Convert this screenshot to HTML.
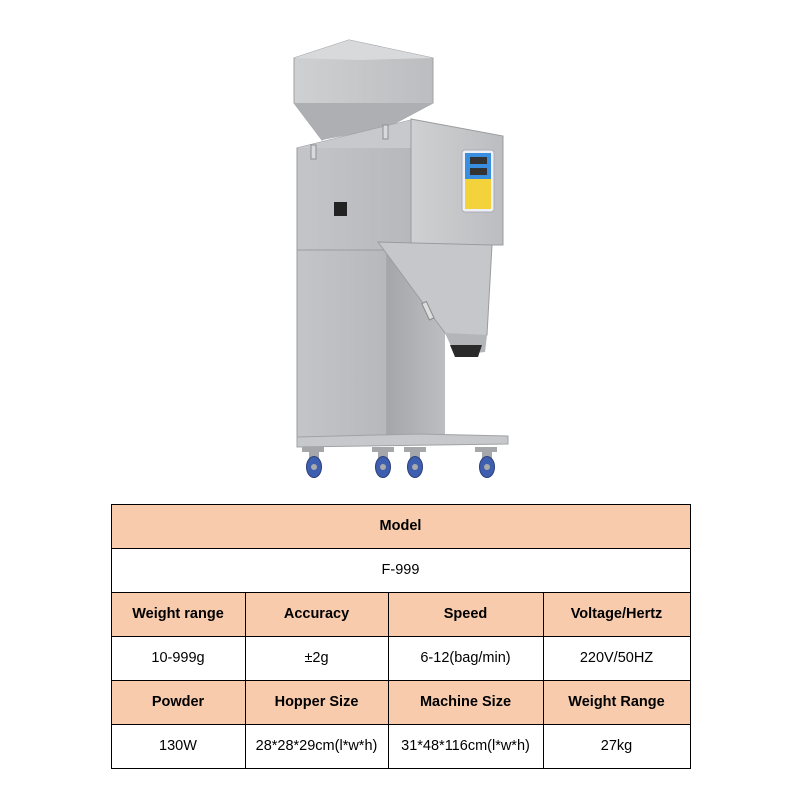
<!DOCTYPE html>
<html><head><meta charset="utf-8"><style>
html,body{margin:0;padding:0;background:#fff;}
#wrap{position:relative;width:800px;height:800px;overflow:hidden;background:#fff;font-family:"Liberation Sans",Arial,sans-serif;}
.c{position:absolute;box-sizing:border-box;display:flex;align-items:center;justify-content:center;font-size:14.5px;color:#000;}
.h{background:#f8cbad;font-weight:bold;}
.l{position:absolute;background:#000;}
</style></head><body><div id="wrap">
<svg width="800" height="500" style="position:absolute;left:0;top:0">
<defs>
<linearGradient id="g1" x1="0" x2="1"><stop offset="0" stop-color="#c4c5c8"/><stop offset="1" stop-color="#b6b8bb"/></linearGradient>
<linearGradient id="g2" x1="0" x2="1"><stop offset="0" stop-color="#cfd0d2"/><stop offset="1" stop-color="#bcbdc0"/></linearGradient>
<linearGradient id="g3" x1="0" x2="1"><stop offset="0" stop-color="#a4a6a9"/><stop offset="1" stop-color="#bdbec1"/></linearGradient>
</defs>
<polygon points="294,58 349,40 433,58 433,103 386,128 350,128 322,140 294,103" fill="url(#g2)" stroke="#9fa1a4" stroke-width="1"/>
<polygon points="294,58 349,40 433,58 360,60" fill="#d8d9db"/>
<polygon points="294,103 433,103 386,128 322,140" fill="#adafb2"/>
<polygon points="297,148 411,120 411,252 297,252" fill="url(#g1)" stroke="#9a9c9f"/>
<polygon points="297,148 411,120 411,148 297,148" fill="#c8c9cc"/>
<polygon points="411,119 503,136 503,245 411,245" fill="url(#g2)" stroke="#9a9c9f"/>
<rect x="311" y="145" width="5" height="14" fill="#d8d9db" stroke="#8d8f92"/>
<rect x="383" y="125" width="5" height="14" fill="#d8d9db" stroke="#8d8f92"/>
<rect x="334" y="202" width="13" height="14" fill="#222"/>
<rect x="462" y="150" width="32" height="62" rx="3" fill="#eef0f4" stroke="#aab"/>
<rect x="465" y="153" width="26" height="26" fill="#3a8ee0"/>
<rect x="470" y="157" width="17" height="7" fill="#333"/>
<rect x="470" y="168" width="17" height="7" fill="#333"/>
<rect x="465" y="179" width="26" height="30" fill="#f3d23c"/>
<rect x="297" y="250" width="90" height="190" fill="url(#g1)" stroke="#9a9c9f"/>
<rect x="387" y="250" width="58" height="190" fill="url(#g3)"/>
<polygon points="378,242 492,245 487,335 455,345 445,333" fill="#c6c7ca" stroke="#9a9c9f"/>
<polygon points="445,333 487,335 485,352 455,355" fill="#b3b5b8"/>
<polygon points="450,345 482,345 478,357 455,357" fill="#2a2a2a"/>
<rect x="425" y="302" width="5" height="18" fill="#ddd" stroke="#888" transform="rotate(-25 427 310)"/>
<polygon points="297,437 420,434 508,436 508,444 297,447" fill="#c7c8cb" stroke="#a0a2a5"/>
<g fill="#a5a7aa">
<rect x="302" y="447" width="22" height="5"/><rect x="372" y="447" width="22" height="5"/><rect x="404" y="447" width="22" height="5"/><rect x="475" y="447" width="22" height="5"/>
<rect x="309" y="450" width="10" height="8"/><rect x="378" y="450" width="10" height="8"/><rect x="410" y="450" width="10" height="8"/><rect x="482" y="450" width="10" height="8"/>
</g>
<g fill="#3e5fb0" stroke="#2b3f7a">
<ellipse cx="314" cy="467" rx="7.5" ry="10.5"/><ellipse cx="383" cy="467" rx="7.5" ry="10.5"/><ellipse cx="415" cy="467" rx="7.5" ry="10.5"/><ellipse cx="487" cy="467" rx="7.5" ry="10.5"/>
</g>
<g fill="#aaa"><circle cx="314" cy="467" r="3"/><circle cx="383" cy="467" r="3"/><circle cx="415" cy="467" r="3"/><circle cx="487" cy="467" r="3"/></g>
</svg>

<div class="c h" style="left:111px;top:504px;width:579px;height:44px;">Model</div>
<div class="c" style="left:111px;top:548px;width:579px;height:44px;">F-999</div>
<div class="c h" style="left:111px;top:592px;width:134px;height:44px;">Weight range</div>
<div class="c h" style="left:245px;top:592px;width:143px;height:44px;">Accuracy</div>
<div class="c h" style="left:388px;top:592px;width:155px;height:44px;">Speed</div>
<div class="c h" style="left:543px;top:592px;width:147px;height:44px;">Voltage/Hertz</div>
<div class="c" style="left:111px;top:636px;width:134px;height:44px;">10-999g</div>
<div class="c" style="left:245px;top:636px;width:143px;height:44px;">±2g</div>
<div class="c" style="left:388px;top:636px;width:155px;height:44px;">6-12(bag/min)</div>
<div class="c" style="left:543px;top:636px;width:147px;height:44px;">220V/50HZ</div>
<div class="c h" style="left:111px;top:680px;width:134px;height:44px;">Powder</div>
<div class="c h" style="left:245px;top:680px;width:143px;height:44px;">Hopper Size</div>
<div class="c h" style="left:388px;top:680px;width:155px;height:44px;">Machine&nbsp;Size</div>
<div class="c h" style="left:543px;top:680px;width:147px;height:44px;">Weight Range</div>
<div class="c" style="left:111px;top:724px;width:134px;height:44px;">130W</div>
<div class="c" style="left:245px;top:724px;width:143px;height:44px;">28*28*29cm(l*w*h)</div>
<div class="c" style="left:388px;top:724px;width:155px;height:44px;">31*48*116cm(l*w*h)</div>
<div class="c" style="left:543px;top:724px;width:147px;height:44px;">27kg</div>
<div class="l" style="left:111px;top:504px;width:580px;height:1px"></div>
<div class="l" style="left:111px;top:548px;width:580px;height:1px"></div>
<div class="l" style="left:111px;top:592px;width:580px;height:1px"></div>
<div class="l" style="left:111px;top:636px;width:580px;height:1px"></div>
<div class="l" style="left:111px;top:680px;width:580px;height:1px"></div>
<div class="l" style="left:111px;top:724px;width:580px;height:1px"></div>
<div class="l" style="left:111px;top:768px;width:580px;height:1px"></div>
<div class="l" style="left:111px;top:504px;width:1px;height:265px"></div>
<div class="l" style="left:690px;top:504px;width:1px;height:265px"></div>
<div class="l" style="left:245px;top:592px;width:1px;height:177px"></div>
<div class="l" style="left:388px;top:592px;width:1px;height:177px"></div>
<div class="l" style="left:543px;top:592px;width:1px;height:177px"></div>
</div></body></html>
